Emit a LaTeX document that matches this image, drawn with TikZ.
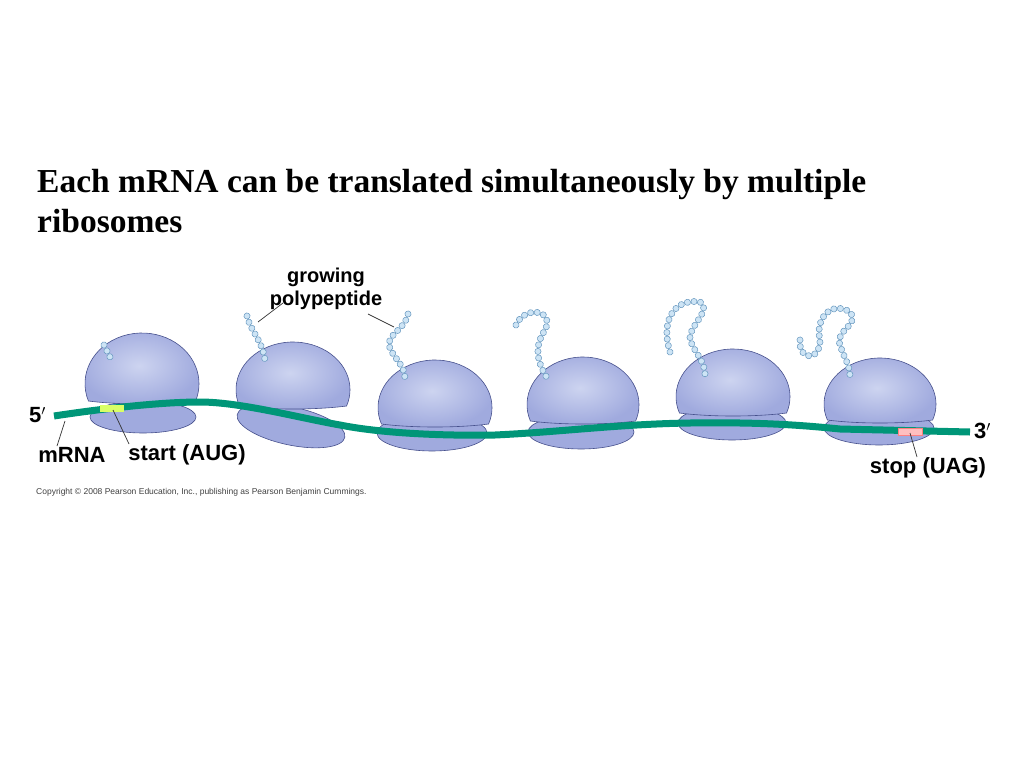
\documentclass[tikz,border=0pt]{standalone}
\usepackage{fontspec}
\setmainfont{Liberation Serif}
\setsansfont{Liberation Sans}
\usetikzlibrary{decorations.markings}
\definecolor{ribo}{RGB}{160,170,222}
\definecolor{ribol}{RGB}{205,212,240}
\definecolor{ribod}{RGB}{70,80,140}
\definecolor{rna}{RGB}{0,150,120}
\definecolor{bead}{RGB}{205,228,245}
\definecolor{beadd}{RGB}{100,150,190}
\tikzset{
  dome/.style={inner color=ribol,outer color=ribo,draw=ribod,line width=0.6pt},
  small/.style={fill=ribo,draw=ribod,line width=0.6pt},
  chain/.style={decoration={markings,mark=between positions 0 and 1 step 6.6pt with {\fill[bead,draw=beadd,line width=0.5pt] (0,0) circle (3.1pt);}},decorate},
  lbl/.style={font=\sffamily\bfseries\fontsize{22}{24}\selectfont,inner sep=0pt},
  lead/.style={line width=0.7pt,black!80}
}
% cx, yb (bottom), rx (half width), h (height)
\newcommand{\ribodome}[4]{%
  \pgfmathsetmacro\ry{#4/1.342}%
  \pgfmathsetmacro\cy{#2-0.342*\ry}%
  \path[dome] ({#1+#3*cos(160)},#2) arc (160:380:#3 and \ry) .. controls (#1+#3*0.4,#2+4) and (#1-#3*0.4,#2+4) .. cycle;}
\begin{document}
\begin{tikzpicture}[x=1pt,y=-1pt]
\useasboundingbox (0,0) rectangle (1024,768);
\node[anchor=base west,inner sep=0pt,font=\bfseries\fontsize{33.5}{36}\selectfont] (t1) at (37,192) {Each mRNA can be translated simultaneously by multiple};
\node[anchor=base west,inner sep=0pt,font=\bfseries\fontsize{33.5}{36}\selectfont] (t2) at (37,232) {ribosomes};
% small subunits
\path[small] (143,417) ellipse (53 and 16);
\path[small,rotate around={-12:(291,426)}] (291,426) ellipse (55 and 19);
\path[small] (432,433) ellipse (55 and 18);
\path[small] (581,432) ellipse (53 and 17);
\path[small] (732,423) ellipse (54 and 17);
\path[small] (879,428) ellipse (55 and 17);
% domes
\ribodome{142}{401}{57}{68}
\ribodome{293}{406}{57}{64}
\ribodome{435}{424}{57}{64}
\ribodome{583}{421}{56}{64}
\ribodome{733}{413}{57}{64}
\ribodome{880}{420}{56}{62}
% mRNA
\coordinate (r5) at (54,416);
\coordinate (r3) at (970,432);
\draw[rna,line width=7pt] (r5) .. controls (120,406) and (170,402) .. (200,402)
  .. controls (240,402) and (300,418) .. (340,425)
  .. controls (380,433) and (440,436) .. (495,435)
  .. controls (560,432) and (620,424) .. (690,423)
  .. controls (760,422) and (800,425) .. (840,429) -- (r3);
\path[fill=green!25!yellow!60,draw=none] (100,405) rectangle (124,412);
\path[fill=red!25,draw=red!50] (898,428) rectangle (922,435);
% polypeptides
\draw[chain] (104,345) -- (111,359);
\draw[chain] (247,316) .. controls (250,330) and (262,340) .. (265,360);
\draw[chain] (408,314) .. controls (405,330) and (385,335) .. (390,348) .. controls (395,360) and (405,365) .. (405,380);
\draw[chain] (516,325) .. controls (525,305) and (555,310) .. (545,330) .. controls (535,345) and (535,360) .. (549,381);
\draw[chain] (670,352) .. controls (660,320) and (675,298) .. (700,302) .. controls (712,310) and (690,325) .. (690,338) .. controls (692,350) and (705,360) .. (705,375);
\draw[chain] (800,340) .. controls (798,360) and (820,362) .. (820,340) .. controls (815,320) and (830,300) .. (850,312) .. controls (860,325) and (835,330) .. (840,345) .. controls (845,360) and (850,365) .. (850,378);
% labels
\node[lbl,align=center,font=\sffamily\bfseries\fontsize{20}{23}\selectfont] (gp) at (326,289) {growing\\polypeptide};
\coordinate (g1) at (283,303); \coordinate (g1e) at (258,322);
\coordinate (g2) at (368,314); \coordinate (g2e) at (394,327);
\draw[lead] (g1) -- (g1e); \draw[lead] (g2) -- (g2e);
\node[lbl,anchor=west] (p5) at (29,415) {5$'$};
\node[lbl] (mr) at (72,455) {mRNA};
\node[lbl] (st) at (187,455) {start (AUG)};
\node[lbl,anchor=west] (p3) at (974,431) {3$'$};
\node[lbl] (sp) at (928,468) {stop (UAG)};
\coordinate (m1) at (65,421); \coordinate (m2) at (57,446);
\draw[lead] (m1) -- (m2);
\coordinate (s1) at (113,410); \coordinate (s2) at (129,444);
\draw[lead] (s1) -- (s2);
\coordinate (u1) at (910,433); \coordinate (u2) at (917,457);
\draw[lead] (u1) -- (u2);
\node[anchor=west,inner sep=0pt,font=\sffamily\fontsize{8.5}{9}\selectfont,black!75] (cp) at (36,492) {Copyright \textcopyright\ 2008 Pearson Education, Inc., publishing as Pearson Benjamin Cummings.};
\end{tikzpicture}
\end{document}
